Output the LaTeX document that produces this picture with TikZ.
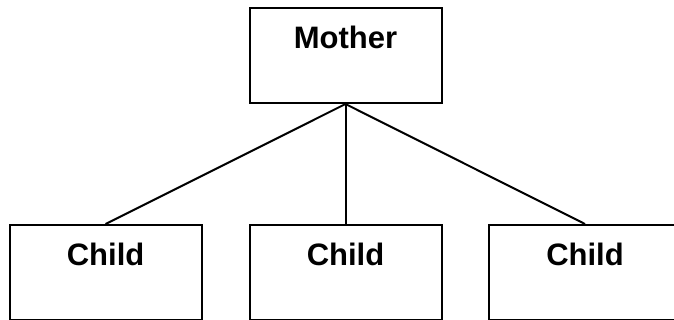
\documentclass[tikz,border=0pt]{standalone}
\usepackage{fontspec}
\setmainfont{Liberation Sans}
\usepackage{tikz}

\tikzset{
    box/.style={shape=rectangle,draw=black,line width=2pt,minimum width=192pt,
        inner xsep=0pt,inner ysep=0pt,text height=40.5pt,text depth=54pt,anchor=north,
        font=\fontsize{31}{31}\selectfont\bfseries},
    link/.style={-,line width=2pt}
}

\begin{document}
\begin{tikzpicture}[x=1pt,y=1pt]
    \clip (0,0) rectangle (674,-320);
    \useasboundingbox (0,0) rectangle (674,-320);
    \node[box] (M) at (345.5,-7.5) {Mother};
    \node[box] (A) at (105.6,-224) {Child};
    \node[box] (B) at (345.5,-224) {Child};
    \node[box] (C) at (585,-224) {Child};
    \path [link] (M.south) edge (A.north);
    \path [link] (M.south) edge (B.north);
    \path [link] (M.south) edge (C.north);
\end{tikzpicture}
\end{document}
